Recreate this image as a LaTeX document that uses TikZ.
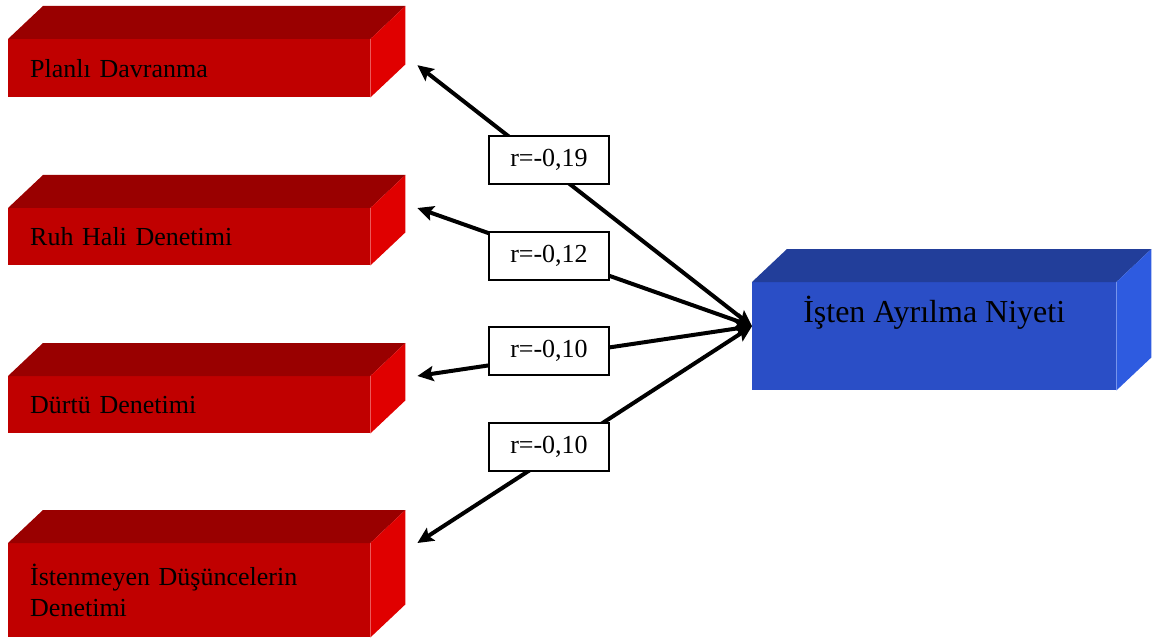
\documentclass[tikz,border=0pt]{standalone}
\usepackage{fontspec}
\setmainfont{Liberation Serif}
\usetikzlibrary{arrows.meta,calc}

\definecolor{rojo}{RGB}{192,0,0}
\definecolor{rojotapa}{RGB}{153,0,0}
\definecolor{rojolado}{RGB}{224,0,0}
\definecolor{azul}{RGB}{42,78,198}
\definecolor{azultapa}{RGB}{34,62,154}
\definecolor{azullado}{RGB}{46,91,224}

% tapa y lado de una caja 3D: nodo, color tapa, color lado
\newcommand{\tapalado}[3]{%
  \fill[#2] (#1.north west) -- ++(35,-33) -- ($(#1.north east)+(35,-33)$) -- (#1.north east) -- cycle;
  \fill[#3] (#1.north east) -- ++(35,-33) -- ($(#1.south east)+(35,-33)$) -- (#1.south east) -- cycle;}

\begin{document}
\begin{tikzpicture}[x=1pt,y=-1pt,
  caja/.style={fill=rojo, anchor=north west, minimum width=362pt, inner sep=0pt,
    text width=318pt, align=left, font=\fontsize{26}{31}\selectfont},
  etiqueta/.style={draw, line width=1.3pt, fill=white, minimum width=120pt,
    minimum height=48pt, inner sep=0pt, font=\fontsize{26}{31}\selectfont},
  flecha/.style={line width=4pt,
    {Stealth[length=16pt,width=15pt,inset=3pt]}-{Stealth[length=16pt,width=15pt,inset=3pt]}}]
\useasboundingbox (0,0) rectangle (1156,639);

% Cajas rojas (cara frontal con texto)
\node[caja, minimum height=58pt] (k1) at (8,39) {Planlı Davranma};
\node[caja, minimum height=57pt] (k2) at (8,208) {Ruh Hali Denetimi};
\node[caja, minimum height=57pt] (k3) at (8,376) {Dürtü Denetimi};
\node[caja, minimum height=94pt] (k4) at (8,543) {İstenmeyen Düşüncelerin\\Denetimi};
\tapalado{k1}{rojotapa}{rojolado}
\tapalado{k2}{rojotapa}{rojolado}
\tapalado{k3}{rojotapa}{rojolado}
\tapalado{k4}{rojotapa}{rojolado}

% Caja azul
\node[fill=azul, anchor=north west, minimum width=364pt, minimum height=108pt,
  inner sep=0pt] (niyet) at (752,282) {};
\tapalado{niyet}{azultapa}{azullado}
\node[anchor=base, font=\fontsize{32}{38}\selectfont] (niyetyazi)
  at ([yshift=-40pt]niyet.north) {İşten Ayrılma Niyeti};

% Puntas de las flechas
\coordinate (merkez) at ([yshift=10pt]niyet.west);
\coordinate (u1) at ([xshift=47pt,yshift=3pt]k1.east);
\coordinate (u2) at ([xshift=47pt]k2.north east);
\coordinate (u3) at ([xshift=47pt]k3.north east);
\coordinate (u4) at ([xshift=47pt]k4.north east);

\draw[flecha] (merkez) -- (u1);
\draw[flecha] (merkez) -- (u2);
\draw[flecha] (merkez) -- (u3);
\draw[flecha] (merkez) -- (u4);

% Coeficientes sobre las flechas
\node[etiqueta] (r1) at (549,160) {r=-0,19};
\node[etiqueta] (r2) at (549,256) {r=-0,12};
\node[etiqueta] (r3) at (549,351) {r=-0,10};
\node[etiqueta] (r4) at (549,447) {r=-0,10};
\end{tikzpicture}
\end{document}
